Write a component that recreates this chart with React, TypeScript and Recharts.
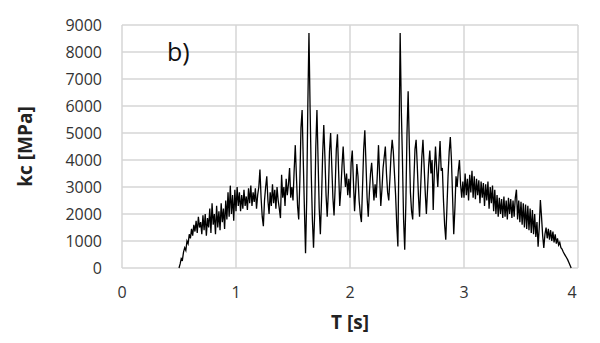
import { LineChart, Line, XAxis, YAxis, CartesianGrid } from "recharts";

// kc [MPa] sampled every 0.01 s, split into three stretches
const STEP = 0.01;

// 0.50 s .. 1.49 s : run-up and noisy plateau
const riseStart = 0.5;
const riseKc = [
  0, 150, 350, 300, 600, 750, 650, 1000, 900, 1250,
  1100, 1450, 1200, 1600, 1350, 1750, 1300, 1900, 1500, 1700,
  1250, 1950, 1400, 2000, 1200, 1850, 1500, 2200, 1300, 2400,
  1600, 2000, 1250, 2300, 1500, 2100, 1400, 2400, 1700, 2200,
  1450, 2500, 1800, 2800, 1900, 3050, 2000, 2700, 1750, 2900,
  2100, 3000, 2300, 2800, 2100, 2700, 2200, 2900, 2300, 2650,
  2150, 2950, 2400, 3050, 2300, 2800, 2450, 2950, 2200, 2700,
  3000, 3650, 2600, 1900, 1550, 2500, 3000, 3400, 2500, 2000,
  2800, 2300, 3100, 2400, 2900, 2200, 3000, 2500, 2200, 1850,
  3450, 2600, 3000, 2300, 3300, 2700, 3100, 3700, 2600, 3000,
];

// 1.50 s .. 2.99 s : strong oscillation with the two spikes
const midStart = 1.5;
const midKc = [
  2500, 3600, 4550, 3400, 2300, 1800, 3200, 5200, 5850, 4000,
  2200, 550, 2500, 6000, 8700, 5900, 3500, 1800, 750, 2000,
  4500, 5850, 4000, 2200, 1250, 2500, 4200, 5300, 4100, 2700,
  1900, 2800, 4300, 5000, 3800, 2600, 1950, 3000, 4400, 4950,
  3600, 2300, 2900, 3800, 4500, 3600, 3000, 3500, 2700, 3300,
  2600, 3900, 4350, 3200, 2100, 2900, 3850, 3400, 2500, 2000,
  1700, 3000, 4400, 5100, 3900, 2600, 1900, 2800, 3500, 3900,
  3200, 2500, 3100, 2600, 3500, 4550, 3400, 2300, 2900, 3700,
  4100, 4500, 3500, 2800, 2500, 3300, 4200, 4750, 4300, 3500,
  2700, 1600, 800, 4500, 8700, 5900, 4000, 1800, 680, 2400,
  5000, 6550, 4600, 2800, 2100, 1800, 3200, 4400, 4750, 3800,
  2700, 1900, 3000, 4100, 4750, 3800, 2800, 2000, 2900, 3800,
  4350, 3500, 4000, 2150, 3600, 4500, 3700, 3000, 3900, 4700,
  3600, 3700, 2500, 1600, 1050, 2200, 3400, 4300, 4850, 4000,
  2600, 1250, 2200, 3400, 3000, 3600, 4000, 3100, 2600, 3200,
];

// 3.00 s .. 3.94 s : decaying noisy tail
const tailStart = 3.0;
const tailKc = [
  2600, 3500, 2700, 3300, 2500, 3450, 2800, 3600, 2600, 3400,
  2550, 3300, 2700, 3250, 2400, 3200, 2600, 3150, 2300, 3100,
  2500, 3200, 2200, 3000, 2400, 3050, 2100, 2900, 2000, 2700,
  1900, 2600, 2000, 2550, 1850, 2650, 1900, 2500, 1800, 2600,
  2000, 2550, 1850, 2500, 1900, 2600, 2900, 1800, 2500, 1700,
  2450, 1600, 2400, 1500, 2350, 1450, 2300, 1400, 2200, 1300,
  2150, 1250, 2000, 1150, 1700, 790, 1500, 2520, 1900, 1200,
  740, 1250, 1500, 1100, 1450, 1050, 1400, 1000, 1350, 950,
  1250, 900, 1100, 850, 950, 750, 700, 600, 520, 450,
  380, 300, 200, 100, 0,
];

const xTicks = [0, 1, 2, 3, 4];
const yTicks = [0, 1000, 2000, 3000, 4000, 5000, 6000, 7000, 8000, 9000];

const toPoints = (start: number, values: number[]) =>
  values.map((kc, i) => ({ t: Math.round((start + i * STEP) * 1000) / 1000, kc }));

const data = [
  ...toPoints(riseStart, riseKc),
  ...toPoints(midStart, midKc),
  ...toPoints(tailStart, tailKc),
];

const font = "'Open Sans', sans-serif";

// last x label sits a little inside the frame, as in the original
const XTick = ({ x, y, payload }: any) => (
  <text
    x={payload.value === 4 ? x - 6 : x}
    y={y}
    dy="0.71em"
    textAnchor="middle"
    fill="#333"
    fontSize={16}
    fontFamily={font}
  >
    {payload.value}
  </text>
);

export default function App() {
  return (
    <div style={{ position: "relative", width: 600, height: 343, background: "#fff", fontFamily: font }}>
      <style>{"body{margin:0}"}</style>
      <LineChart width={600} height={343} data={data} margin={{ top: 25, right: 22, left: 0, bottom: 0 }}>
        <CartesianGrid stroke="#d6d6d6" strokeWidth={1.5} />
        <XAxis
          dataKey="t"
          type="number"
          domain={[0, 4]}
          ticks={xTicks}
          height={75}
          axisLine={false}
          tickLine={false}
          tickSize={0}
          tickMargin={19}
          tick={<XTick />}
          label={{ value: "T [s]", position: "insideBottom", offset: 14, fill: "#222", fontSize: 19, fontWeight: 700, fontFamily: font }}
        />
        <YAxis
          type="number"
          domain={[0, 9000]}
          ticks={yTicks}
          width={122}
          axisLine={false}
          tickLine={false}
          tickSize={0}
          tickMargin={20}
          tick={{ fill: "#333", fontSize: 16, fontFamily: font }}
          label={{ value: "kc [MPa]", angle: -90, position: "insideLeft", offset: 25, fill: "#222", fontSize: 19, fontWeight: 700, fontFamily: font, style: { textAnchor: "middle" } }}
        />
        <Line
          type="linear"
          dataKey="kc"
          stroke="#000"
          strokeWidth={1.3}
          dot={false}
          isAnimationActive={false}
        />
      </LineChart>
      <div style={{ position: "absolute", left: 167, top: 39, fontSize: 25, color: "#111", lineHeight: 1 }}>b)</div>
    </div>
  );
}
